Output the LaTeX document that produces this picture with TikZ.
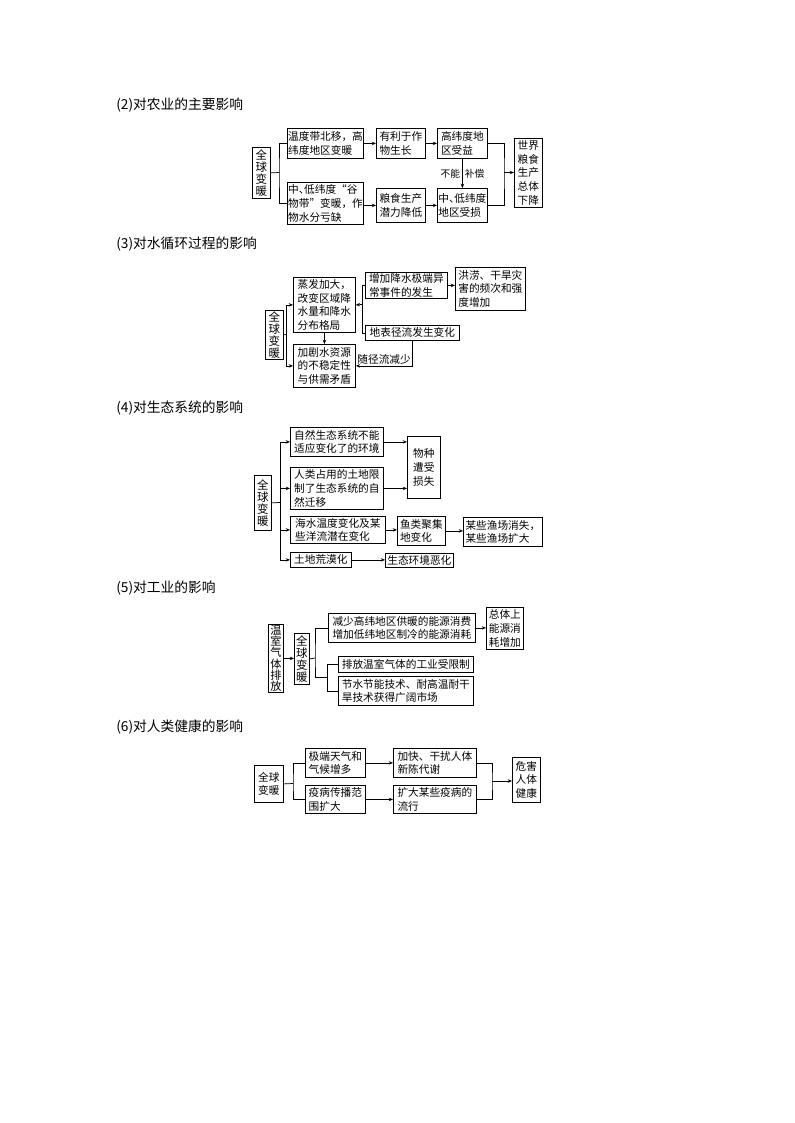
\documentclass[tikz,border=0pt]{standalone}
\usepackage{fontspec}
\setmainfont{Noto Sans CJK SC}
\usetikzlibrary{arrows.meta}
\tikzset{
  box/.style={draw,line width=0.6pt,inner sep=0.6pt,align=left,font=\fontsize{8}{10.2}\selectfont,anchor=north west},
  vbox/.style={box,align=center,font=\fontsize{8.6}{8.9}\selectfont},
  cbox/.style={box,align=center},
  ln/.style={line width=0.55pt},
  arr/.style={ln,-{Stealth[length=3.2pt,width=2.6pt]}},
  title/.style={anchor=west,inner sep=0pt,font=\fontsize{10.3}{12}\selectfont},
  lbl/.style={font=\fontsize{7.3}{9}\selectfont,inner sep=1.5pt},
}
\newcommand\bx[7][box]{%
  \pgfmathsetmacro\bxw{(#5-#3)*0.75}%
  \pgfmathsetmacro\bxh{(#6-#4)*0.75}%
  \node[#1,minimum width=\bxw pt,minimum height=\bxh pt] (#2) at (#3,#4) {#7};%
}
\newcommand\ndun{\makebox[0.5em][l]{、}}
\begin{document}
\begin{tikzpicture}[x=0.75pt,y=-0.75pt]
\fill[white] (0,0) rectangle (794,1123);
\useasboundingbox (0,0) rectangle (794,1123);

% ---------- (2) ----------
\node[title] (h2) at (116,105) {(2)对农业的主要影响};
\bx[vbox]{g2}{252}{147}{270}{198}{全\\球\\变\\暖}
\bx{a1}{287}{128}{363}{158}{温度带北移，高\\纬度地区变暖}
\bx{a2}{376}{128}{425}{158}{有利于作\\物生长}
\bx{a3}{437}{128}{487}{158}{高纬度地\\区受益}
\bx{b1}{287}{182}{363}{224}{中\ndun 低纬度“谷\\物带”变暖，作\\物水分亏缺}
\bx{b2}{376}{188}{425}{222}{粮食生产\\潜力降低}
\bx{b3}{437}{188}{487}{222}{中\ndun 低纬度\\地区受损}
\bx[cbox]{w2}{514}{138}{542}{207}{世界\\粮食\\生产\\总体\\下降}
\coordinate (j2) at (279,172.5);
\coordinate (r2) at (504,172.5);
\draw[ln] (g2.east) -- (j2);
\draw[ln] (a1.west) -| (j2) |- (b1.west);
\draw[arr] (a1.east) -- (a1.east -| a2.west);
\draw[arr] (a2.east) -- (a2.east -| a3.west);
\draw[arr] (b1.east |- b2.west) -- (b2.west);
\draw[arr] (b2.east) -- (b2.east -| b3.west);
\draw[arr] (a3.south) -- (b3.north) node[midway,left,lbl] {不能} node[midway,right,lbl] {补偿};
\draw[ln] (a3.east) -| (r2) |- (b3.east);
\draw[arr] (r2) -- (r2 -| w2.west);

% ---------- (3) ----------
\node[title] (h3) at (116,244) {(3)对水循环过程的影响};
\bx[vbox]{g3}{265}{310}{283}{359}{全\\球\\变\\暖}
\bx{c1}{293}{277}{355}{332}{蒸发加大，\\改变区域降\\水量和降水\\分布格局}
\bx{c2}{293}{344}{355}{387}{加剧水资源\\的不稳定性\\与供需矛盾}
\bx{d1}{365}{272}{447}{298}{增加降水极端异\\常事件的发生}
\bx{d3}{455}{267}{525}{310}{洪涝、干旱灾\\害的频次和强\\度增加}
\bx{d2}{365}{325}{459}{340}{地表径流发生变化}
\coordinate (j3) at (286,334.5);
\coordinate (j3b) at (362,304.5);
\draw[ln] (g3.east) -- (j3);
\draw[arr] (j3) |- (c1.west);
\draw[arr] (j3) |- (c2.west);
\draw[arr] (c1.south) -- (c2.north);
\draw[ln] (d1.west) -| (j3b);
\draw[ln] (d2.west) -| (j3b);
\draw[arr] (j3b) -- (c1.east);
\draw[arr] (d1.east) -- (d1.east -| d3.west);
\draw[arr] (d2.south) |- (c2.east) node[pos=0.75,above,lbl,font=\fontsize{8}{10}\selectfont,inner sep=0.8pt] {随径流减少};

% ---------- (4) ----------
\node[title] (h4) at (116,408) {(4)对生态系统的影响};
\bx[vbox]{g4}{254}{475}{271}{530}{全\\球\\变\\暖}
\bx{e1}{290}{427}{383}{456}{自然生态系统不能\\适应变化了的环境}
\bx{e2}{290}{467}{383}{509}{人类占用的土地限\\制了生态系统的自\\然迁移}
\bx{e3}{290}{516}{385}{543}{海水温度变化及某\\些洋流潜在变化}
\bx{e4}{290}{552}{351}{567}{土地荒漠化}
\bx[cbox]{f1}{407}{436}{440}{498}{物种\\遭受\\损失}
\bx{g1}{397}{516}{445}{545}{鱼类聚集\\地变化}
\bx{h1}{463}{517}{542}{546}{某些渔场消失，\\某些渔场扩大}
\bx{eh}{385}{553}{453}{567}{生态环境恶化}
\coordinate (j4) at (280,502.5);
\draw[ln] (g4.east) -- (j4);
\draw[arr] (j4) |- (e1.west);
\draw[arr] (j4) |- (e2.west);
\draw[arr] (j4) |- (e3.west);
\draw[arr] (j4) |- (e4.west);
\draw[arr] (e1.east) -- (e1.east -| f1.west);
\draw[arr] (e2.east) -- (e2.east -| f1.west);
\draw[arr] (e3.east) -- (e3.east -| g1.west);
\draw[arr] (g1.east) -- (g1.east -| h1.west);
\draw[arr] (e4.east) -- (e4.east -| eh.west);

% ---------- (5) ----------
\node[title] (h5) at (116,588) {(5)对工业的影响};
\bx[vbox,font=\fontsize{8.4}{8.4}\selectfont]{t5}{268}{624}{283}{692}{温\\室\\气\\体\\排\\放}
\bx[vbox]{g5}{294}{633}{309}{684}{全\\球\\变\\暖}
\bx{i1}{328}{613}{475}{642}{减少高纬地区供暖的能源消费\\增加低纬地区制冷的能源消耗}
\bx{i2}{338}{656}{473}{672}{排放温室气体的工业受限制}
\bx{i3}{338}{676}{473}{705}{节水节能技术、耐高温耐干\\旱技术获得广阔市场}
\bx[cbox]{j1}{486}{607}{523}{649}{总体上\\能源消\\耗增加}
\coordinate (j5) at (315,658);
\coordinate (j5b) at (327,677);
\draw[arr] (t5.east) -- (t5.east -| g5.west);
\draw[ln] (g5.east) -- (j5);
\draw[ln] (i1.west) -| (j5) |- (j5b);
\draw[ln] (i2.west) -| (j5b);
\draw[ln] (i3.west) -| (j5b);
\draw[arr] (i1.east) -- (i1.east -| j1.west);

% ---------- (6) ----------
\node[title] (h6) at (116,727) {(6)对人类健康的影响};
\bx[cbox]{g6}{254}{765}{283}{802}{全球\\变暖}
\bx{k1}{305}{748}{365}{777}{极端天气和\\气候增多}
\bx{k2}{305}{785}{365}{813}{疫病传播范\\围扩大}
\bx{l1}{393}{748}{476}{777}{加快、干扰人体\\新陈代谢}
\bx{l2}{393}{785}{476}{813}{扩大某些疫病的\\流行}
\bx[cbox]{m1}{512}{757}{540}{802}{危害\\人体\\健康}
\coordinate (j6) at (293,783.5);
\coordinate (r6) at (492,781);
\draw[ln] (g6.east) -- (j6);
\draw[ln] (k1.west) -| (j6) |- (k2.west);
\draw[arr] (k1.east) -- (k1.east -| l1.west);
\draw[arr] (k2.east) -- (k2.east -| l2.west);
\draw[ln] (l1.east) -| (r6) |- (l2.east);
\draw[arr] (r6) -- (r6 -| m1.west);
\end{tikzpicture}
\end{document}
